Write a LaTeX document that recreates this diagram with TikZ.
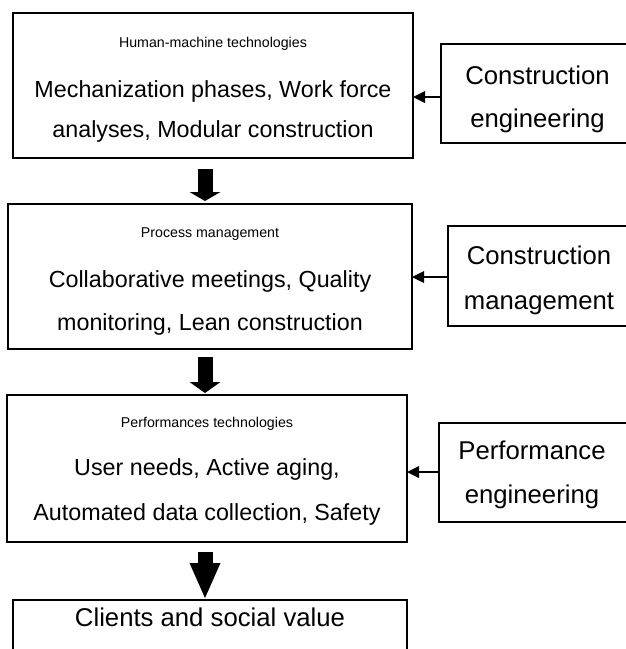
\documentclass[tikz,border=0pt]{standalone}
\usepackage{fontspec}
\setmainfont{Liberation Sans}
\usetikzlibrary{arrows.meta}
\begin{document}
\begin{tikzpicture}[x=1pt,y=-1pt,
  box/.style={draw, line width=1.8pt, inner sep=0pt, outer sep=0pt},
  titletxt/.style={anchor=base, inner sep=0pt, font=\fontsize{14.2}{17}\selectfont},
  maintxt/.style={anchor=base, inner sep=0pt, font=\fontsize{23.3}{28}\selectfont},
  sidetxt/.style={anchor=base, inner sep=0pt, font=\fontsize{25.7}{30}\selectfont},
  thinarrow/.style={line width=1.8pt, -{Triangle[length=12pt, width=12pt, line width=0pt]}},
  bigarrow/.style={line width=15pt, -{Triangle[length=#1, width=31pt, line width=0pt]}}]
\useasboundingbox (0,0) rectangle (626,649);
% main boxes
\node[box, minimum width=400pt, minimum height=145pt] (b1) at (213,85.5) {};
\node[box, minimum width=404pt, minimum height=145pt] (b2) at (210,276.5) {};
\node[box, minimum width=400pt, minimum height=147pt] (b3) at (207,468.5) {};
\node[box, minimum width=394pt, minimum height=90pt] (b4) at (210,645) {};
% side boxes
\node[box, minimum width=193pt, minimum height=99pt] (r1) at (537.5,93.5) {};
\node[box, minimum width=186pt, minimum height=100pt] (r2) at (541,276) {};
\node[box, minimum width=195pt, minimum height=99pt] (r3) at (536.5,472.5) {};
% texts of box 1
\node[titletxt] (t1) at (213,47) {Human-machine technologies};
\node[maintxt] (t1a) at (213,97) {Mechanization phases, Work force};
\node[maintxt] (t1b) at (213,137) {analyses, Modular construction};
% texts of box 2
\node[titletxt] (t2) at (210,237) {Process management};
\node[maintxt] (t2a) at (210,287) {Collaborative meetings, Quality};
\node[maintxt] (t2b) at (210,330) {monitoring, Lean construction};
% texts of box 3
\node[titletxt] (t3) at (207,427) {Performances technologies};
\node[maintxt] (t3a) at (207,475) {User needs, Active aging,};
\node[maintxt] (t3b) at (207,520) {Automated data collection, Safety};
% box 4
\node[sidetxt] (t4) at (210,626) {Clients and social value};
% side texts
\node[sidetxt] (s1a) at (537.5,84) {Construction};
\node[sidetxt] (s1b) at (537.5,127) {engineering};
\node[sidetxt] (s2a) at (539,264) {Construction};
\node[sidetxt] (s2b) at (539,309) {management};
\node[sidetxt] (s3a) at (532,459) {Performance};
\node[sidetxt] (s3b) at (532,503) {engineering};
% thin arrows
\draw[thinarrow] (r1.west |- 0,97) -- (b1.east |- 0,97);
\draw[thinarrow] (r2.west |- 0,277) -- (b2.east |- 0,277);
\draw[thinarrow] (r3.west |- 0,472) -- (b3.east |- 0,472);
% big arrows
\coordinate (a1s) at (205,169);
\coordinate (a1e) at (205,201);
\coordinate (a2s) at (205,357);
\coordinate (a2e) at (205,393);
\coordinate (a3s) at (205,552);
\coordinate (a3e) at (205,598);
\draw[bigarrow=9pt] (a1s) -- (a1e);
\draw[bigarrow=11pt] (a2s) -- (a2e);
\draw[bigarrow=35pt] (a3s) -- (a3e);
\end{tikzpicture}
\end{document}
